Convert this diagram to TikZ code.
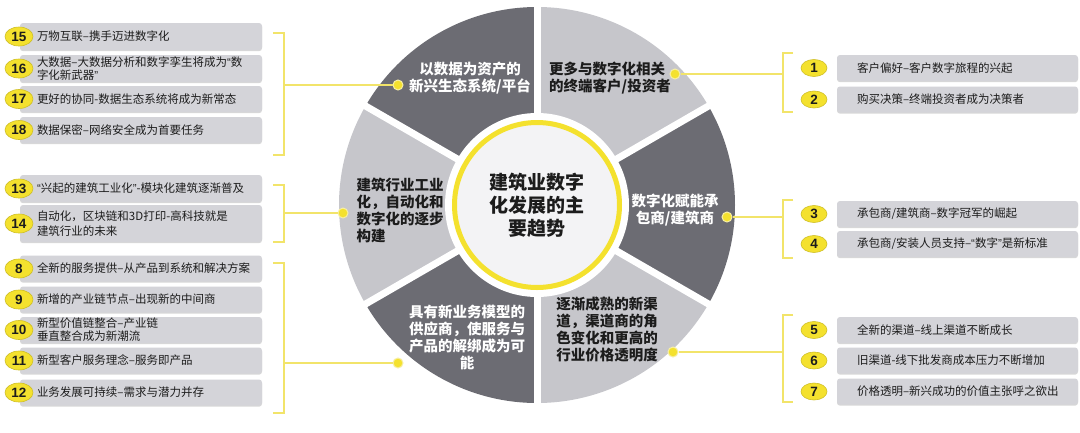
\documentclass[tikz,border=0pt]{standalone}
\usepackage{fontspec}
\setmainfont{Noto Sans CJK SC}
\newfontfamily\numfont{Liberation Sans}
\usepackage{tikz}
\usetikzlibrary{positioning,shadows,shapes.geometric}
\definecolor{trdark}{HTML}{6C6C73}
\definecolor{trlight}{HTML}{C6C6CB}
\definecolor{trbox}{HTML}{D4D4D9}
\definecolor{trhub}{HTML}{F3F3F5}
\definecolor{tryellow}{HTML}{F4E12E}
\definecolor{trline}{HTML}{F2E46A}
\definecolor{trink}{HTML}{1C1C1C}
\newcommand{\qo}{{\numfont “}}
\newcommand{\qc}{{\numfont ”}}

\begin{document}
\begin{tikzpicture}[x=1pt, y=-1pt,
  box/.style={fill=trbox, rounded corners=3pt, minimum width=242, inner sep=0pt,
    drop shadow={shadow xshift=0pt, shadow yshift=-1.2pt, fill=black!30, opacity=.5}},
  txt/.style={anchor=west, align=left, inner sep=0pt, text=trink, font=\fontsize{11.5}{13}\selectfont},
  num/.style={ellipse, fill=tryellow, draw=tryellow!85!black, line width=.6, inner sep=0pt,
    text=trink, font=\numfont\bfseries\fontsize{13.5}{14}\selectfont},
  lnum/.style={num, minimum width=28, minimum height=19},
  rnum/.style={num, minimum width=26, minimum height=17},
  seg/.style={align=center, inner sep=0pt, font=\bfseries\fontsize{14.5}{17}\selectfont},
  segw/.style={seg, text=white},
  segb/.style={seg, text=trink},
  hub/.style={circle, fill=trhub, draw=tryellow, line width=5, minimum size=165, align=center,
    text=trink, font=\bfseries\fontsize{19}{23}\selectfont},
  dot/.style={circle, fill=tryellow, draw=trline!60!white, line width=1, minimum size=10, inner sep=0pt},
  link/.style={trline, line width=1.5},
  brk/.style={trline, line width=1.5}]
  \useasboundingbox[fill=white] (0,0) rectangle (1080,432);
  % ---- left boxes ----
  \foreach \n/\y/\h/\t in {15/36.5/27/{万物互联–携手迈进数字化},
      16/68.5/27/{大数据–大数据分析和数字孪生将成为\qo 数\\字化新武器\qc},
      17/99/26/{更好的协同-数据生态系统将成为新常态},
      18/130/26/{数据保密–网络安全成为首要任务},
      13/188.5/27/{\qo 兴起的建筑工业化\qc-模块化建筑逐渐普及},
      14/223.5/37/{自动化，区块链和3D打印-高科技就是\\[2pt]建筑行业的未来},
      8/268.5/26/{全新的服务提供–从产品到系统和解决方案},
      9/299.5/26/{新增的产业链节点–出现新的中间商},
      10/330/26/{新型价值链整合–产业链\\垂直整合成为新潮流},
      11/360.5/26/{新型客户服务理念–服务即产品},
      12/392.5/26/{业务发展可持续–需求与潜力并存}} {
    \node[box, minimum height=\h] (l\n) at (141,\y) {};
    \node[txt] (t\n) at ([xshift=17]l\n.west) {\t};
    \node[lnum] (n\n) at (19,\y) {\n};
  }
  % ---- right boxes ----
  \foreach \n/\y/\t in {1/68/{客户偏好–客户数字旅程的兴起},
      2/99.5/{购买决策–终端投资者成为决策者},
      3/214/{承包商/建筑商–数字冠军的崛起},
      4/244/{承包商/安装人员支持–\qo 数字\qc 是新标准},
      5/330/{全新的渠道–线上渠道不断成长},
      6/360.5/{旧渠道-线下批发商成本压力不断增加},
      7/391.5/{价格透明–新兴成功的价值主张呼之欲出}} {
    \node[box, minimum width=241, minimum height=26] (r\n) at (957.5,\y) {};
    \node[txt] (t\n) at ([xshift=20]r\n.west) {\t};
    \node[rnum] (n\n) at (814,\y) {\n};
  }
  % ---- wheel ----
  \begin{scope}[shift={(537,205)}, yscale=-1]
    \foreach \a/\c in {30/trlight, 90/trdark, 150/trlight, 210/trdark, 270/trlight, 330/trdark}
      \fill[\c] (0,0) -- (\a:198) arc[start angle=\a, delta angle=60, radius=198] -- cycle;
    \foreach \a in {30,90,...,330} \draw[white, line width=7] (0,0) -- (\a:204);
    \fill[white] (0,0) circle[radius=92];
  \end{scope}
  \node[hub] (hub) at (537,205) {建筑业数字\\化发展的主\\要趋势};
  \node[segw] (s1) at (470,78) {以数据为资产的\\新兴生态系统/平台};
  \node[segb, align=left] (s2) at (610,78) {更多与数字化相关\\的终端客户/投资者};
  \node[segw] (s3) at (675,210) {数字化赋能承\\包商/建筑商};
  \node[segb] (s4) at (607,329) {逐渐成熟的新渠\\道，渠道商的角\\色变化和更高的\\行业价格透明度};
  \node[segw] (s5) at (467,337) {具有新业务模型的\\供应商，使服务与\\产品的解绑成为可\\能};
  \node[segb, align=left] (s6) at (400,210) {建筑行业工业\\化，自动化和\\数字化的逐步\\构建};
  % ---- brackets ----
  \draw[brk] (273,33) -- (284,33) -- (284,155) -- (273,155);
  \draw[brk] (273,185) -- (284,185) -- (284,242) -- (273,242);
  \draw[brk] (273,263) -- (284,263) -- (284,413) -- (273,413);
  \draw[brk] (793,53) -- (783,53) -- (783,112) -- (793,112);
  \draw[brk] (793,200) -- (783,200) -- (783,258) -- (793,258);
  \draw[brk] (793,315) -- (783,315) -- (783,402) -- (793,402);
  \coordinate (lb1) at (284,85);
  \coordinate (lb2) at (284,213);
  \coordinate (lb3) at (284,363);
  \coordinate (rb1) at (783,74);
  \coordinate (rb2) at (783,217);
  \coordinate (rb3) at (783,352);
  % ---- dots and links ----
  \foreach \d/\x/\y in {d1/398/85, d2/675/74, d3/727/217, d4/673/352, d5/398/363, d6/343/213}
    \node[dot] (\d) at (\x,\y) {};
  \foreach \a/\b in {d1/lb1, d6/lb2, d5/lb3, d2/rb1, d3/rb2, d4/rb3}
    \draw[link] (\a) -- (\b);
\end{tikzpicture}
\end{document}
